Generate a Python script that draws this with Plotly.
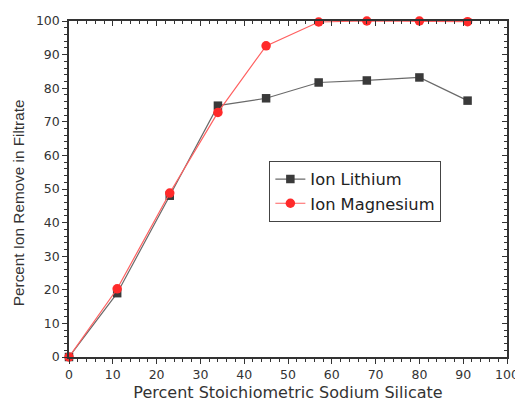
import plotly.graph_objects as go

x_vals = [0, 11, 23, 34, 45, 57, 68, 80, 91]
lithium = [0, 19, 48, 74.8, 77, 81.7, 82.3, 83.2, 76.3]
magnesium = [0, 20.3, 48.8, 72.8, 92.6, 99.7, 100, 100, 99.8]

tick_font = dict(family="DejaVu Sans", size=12.5, color="#333333")

fig = go.Figure()
fig.add_trace(go.Scatter(
    x=x_vals, y=lithium, name="Ion Lithium", mode="lines+markers",
    line=dict(color="#6a6a6a", width=1.2),
    marker=dict(symbol="square", size=8.5, color="#3a3a3a"),
    cliponaxis=False,
))
fig.add_trace(go.Scatter(
    x=x_vals, y=magnesium, name="Ion Magnesium", mode="lines+markers",
    line=dict(color="#ff6060", width=1.2),
    marker=dict(symbol="circle", size=9.5, color="#ff2a2a"),
    cliponaxis=False,
))

common = dict(showline=True, linecolor="#333333", linewidth=1.5, showgrid=False,
              zeroline=False, ticklen=5, tickwidth=1.2, tickcolor="#333333",
              automargin=False)
minor = dict(dtick=2, ticklen=3, tickwidth=1, tickcolor="#333333")

fig.update_layout(
    width=515, height=410,
    paper_bgcolor="white", plot_bgcolor="white",
    margin=dict(l=69, r=8, t=21, b=53, autoexpand=False),
    showlegend=True,
    legend=dict(x=0.457, y=0.584, xanchor="left", yanchor="top",
                bordercolor="#444444", borderwidth=1.2, bgcolor="white",
                font=dict(family="DejaVu Sans", size=16.3, color="#222222"),
                tracegroupgap=0),
    xaxis=dict(range=[0, 100], dtick=10, ticks="outside", minor=dict(ticks="outside", **minor),
               ticklabeloverflow="allow",
               title=dict(text="Percent Stoichiometric Sodium Silicate",
                          font=dict(family="DejaVu Sans", size=16, color="#333333"),
                          standoff=6),
               tickfont=tick_font, **common),
    yaxis=dict(range=[0, 100], dtick=10, ticks="outside", minor=dict(ticks="outside", **minor),
               ticklabeloverflow="allow",
               tickfont=tick_font, **common),
    xaxis2=dict(range=[0, 100], dtick=10, overlaying="x", side="top", anchor="y",
                ticks="inside", minor=dict(ticks="inside", **minor), showticklabels=False,
                **common),
    yaxis2=dict(range=[0, 100], dtick=10, overlaying="y", side="right", anchor="x",
                ticks="inside", minor=dict(ticks="inside", **minor), showticklabels=False,
                **common),
    annotations=[dict(text="Percent Ion Remove in Filtrate", textangle=-90,
                      xref="paper", yref="paper", x=-0.1164, y=0.458,
                      xanchor="center", yanchor="middle", showarrow=False,
                      font=dict(family="Liberation Sans, Arial", size=15.3, color="#333333"))],
)
# invisible trace to activate top/right axes
fig.add_trace(go.Scatter(x=[None], y=[None], xaxis="x2", yaxis="y2", showlegend=False, hoverinfo="skip"))

fig.write_html("out.html", config={"displayModeBar": False},
               post_script="document.body.style.margin='0';document.body.style.overflow='hidden';")
